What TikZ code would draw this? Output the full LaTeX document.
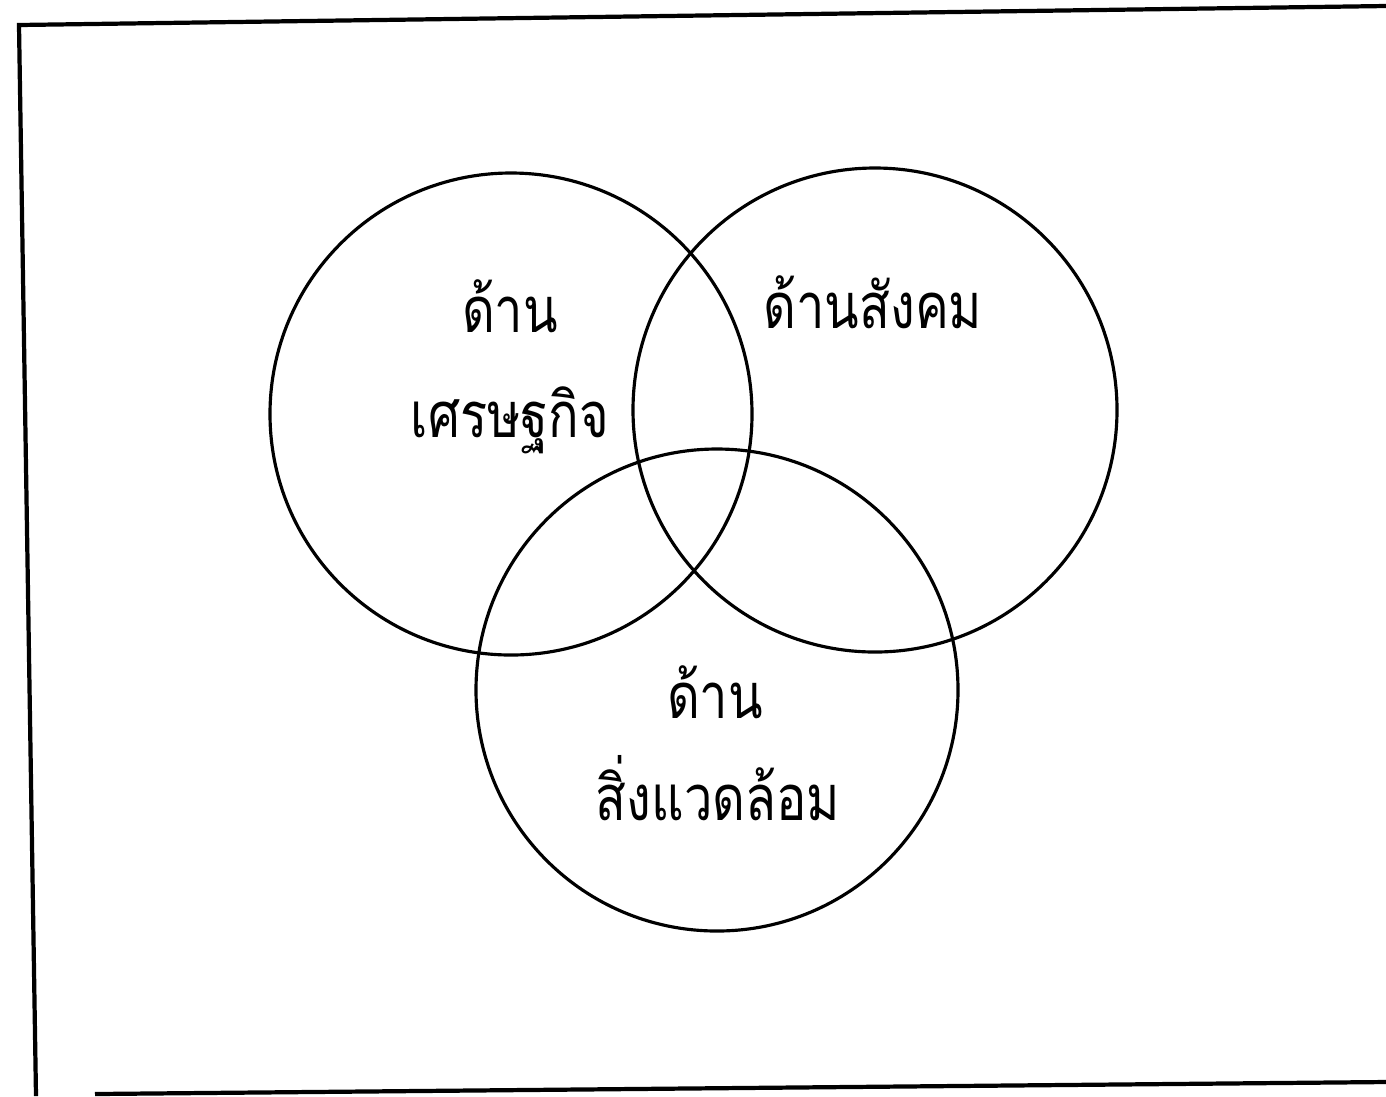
\documentclass[tikz,border=0pt]{standalone}
\usepackage{fontspec}
\newfontfamily\thaifont[Script=Thai, FakeStretch=0.8]{Loma}

\begin{document}
\begin{tikzpicture}[x=1cm, y=-1cm, line width=0.9pt,
    thaitext/.style={font=\thaifont\fontsize{18}{20}\selectfont, anchor=base, inner sep=0pt}]
  \useasboundingbox (0,0) rectangle (13.86,10.96);
  % Frame (open on the right)
  \draw[line width=1.2pt] (13.86,0.06) -- (0.19,0.25) -- (0.36,10.96);
  \draw[line width=1.2pt] (0.95,10.94) -- (13.86,10.82);
  % Circle centres
  \coordinate (econ) at (5.11,4.14);
  \coordinate (soc) at (8.75,4.10);
  \coordinate (env) at (7.17,6.90);
  % Circles
  \draw (econ) circle (2.41);
  \draw (soc) circle (2.42);
  \draw (env) circle (2.41);
  % Labels
  \node[thaitext] (econtop) at (5.10,3.32) {ด้าน};
  \node[thaitext] (econbot) at (5.10,4.37) {เศรษฐกิจ};
  \node[thaitext] (soclbl) at (8.73,3.28) {ด้านสังคม};
  \node[thaitext] (envtop) at (7.15,7.18) {ด้าน};
  \node[thaitext] (envbot) at (7.18,8.20) {สิ่งแวดล้อม};
\end{tikzpicture}
\end{document}
